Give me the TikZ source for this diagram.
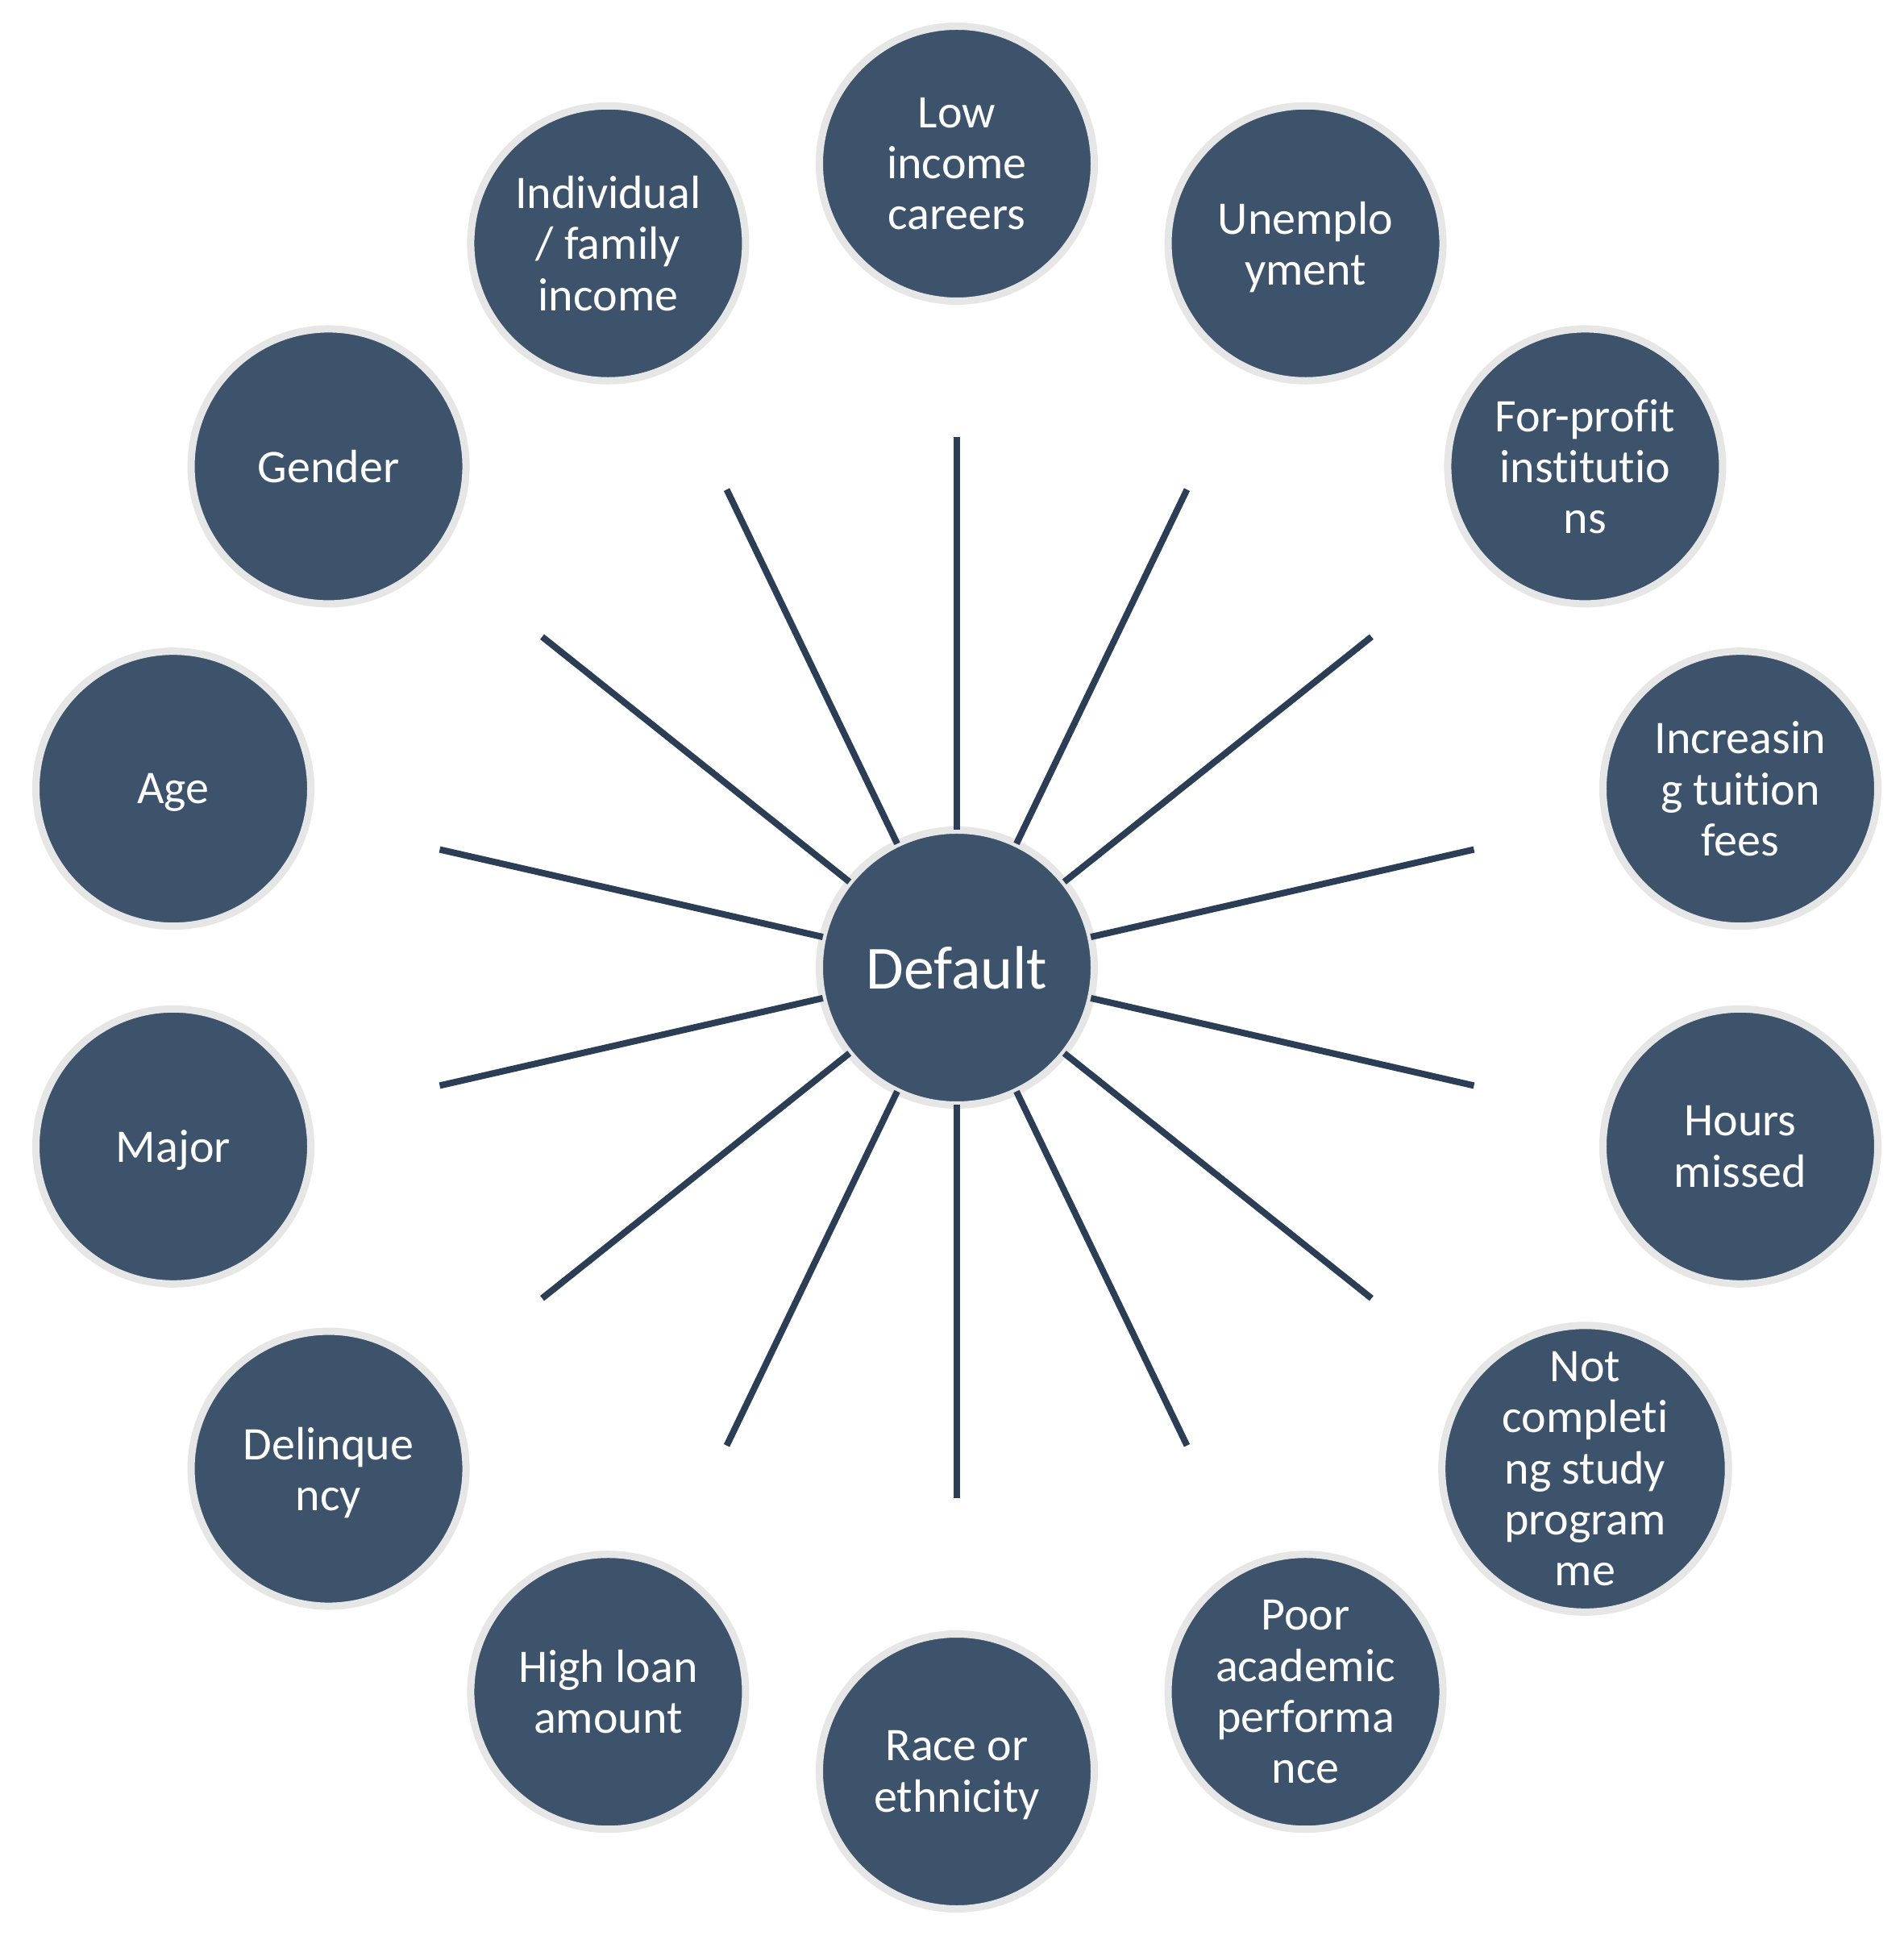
\documentclass[tikz,border=0pt]{standalone}
\usepackage{fontspec}
\setmainfont{Carlito}[Ligatures=NoCommon]
\usetikzlibrary{positioning}
\definecolor{slate}{HTML}{3D536C}
\definecolor{spokeblue}{HTML}{2B3E56}
\definecolor{ringgrey}{HTML}{E6E6E6}
\begin{document}
\begin{tikzpicture}[
			factor/.style={
				draw=ringgrey,
				fill=slate,
				circle,
				line width=0.09cm,
				minimum size=3.41cm,
				inner sep=0pt,
				outer sep=0pt,
				align=center,
				text depth=0pt,
				text=white,
				font=\fontsize{16.5}{18}\selectfont
			},
			hub/.style={
				factor,
				font=\fontsize{21.6}{25}\selectfont
			},
			spoke/.style={
				draw=spokeblue,
				line width=0.08cm
			}
			]
			\useasboundingbox (-11.87,-12.11) rectangle (11.75,12.00);

			% outer ring of factors
			\node[factor] (low) at (90:9.97) {Low\\income\\careers};
			\node[factor] (unemp) at (64.286:9.97) {Unemplo\\yment};
			\node[factor] (forprofit) at (38.571:9.97) {For-profit\\institutio\\ns};
			\node[factor] (tuition) at (12.857:9.97) {Increasin\\g tuition\\fees};
			\node[factor] (hours) at (-12.857:9.97) {Hours\\missed};
			\node[factor] (notcomp) at (-38.571:9.97) {Not\\completi\\ng study\\program\\me};
			\node[factor] (poor) at (-64.286:9.97) {Poor\\academic\\performa\\nce};
			\node[factor] (race) at (-90:9.97) {Race or\\ethnicity};
			\node[factor] (loan) at (-115.714:9.97) {High loan\\amount};
			\node[factor] (delinq) at (-141.429:9.97) {Delinque\\ncy};
			\node[factor] (major) at (-167.143:9.97) {Major};
			\node[factor] (age) at (167.143:9.97) {Age};
			\node[factor] (gender) at (141.429:9.97) {Gender};
			\node[factor] (income) at (115.714:9.97) {Individual\\/ family\\income};

			% centre
			\node[hub] (def) at (0,0) {Default};

			% free ends of the spokes
			\coordinate (s1) at (90:6.58);
			\coordinate (s2) at (64.286:6.58);
			\coordinate (s3) at (38.571:6.58);
			\coordinate (s4) at (12.857:6.58);
			\coordinate (s5) at (-12.857:6.58);
			\coordinate (s6) at (-38.571:6.58);
			\coordinate (s7) at (-64.286:6.58);
			\coordinate (s8) at (-90:6.58);
			\coordinate (s9) at (-115.714:6.58);
			\coordinate (s10) at (-141.429:6.58);
			\coordinate (s11) at (-167.143:6.58);
			\coordinate (s12) at (167.143:6.58);
			\coordinate (s13) at (141.429:6.58);
			\coordinate (s14) at (115.714:6.58);

			\draw[spoke] (def) -- (s1);
			\draw[spoke] (def) -- (s2);
			\draw[spoke] (def) -- (s3);
			\draw[spoke] (def) -- (s4);
			\draw[spoke] (def) -- (s5);
			\draw[spoke] (def) -- (s6);
			\draw[spoke] (def) -- (s7);
			\draw[spoke] (def) -- (s8);
			\draw[spoke] (def) -- (s9);
			\draw[spoke] (def) -- (s10);
			\draw[spoke] (def) -- (s11);
			\draw[spoke] (def) -- (s12);
			\draw[spoke] (def) -- (s13);
			\draw[spoke] (def) -- (s14);
\end{tikzpicture}
\end{document}
